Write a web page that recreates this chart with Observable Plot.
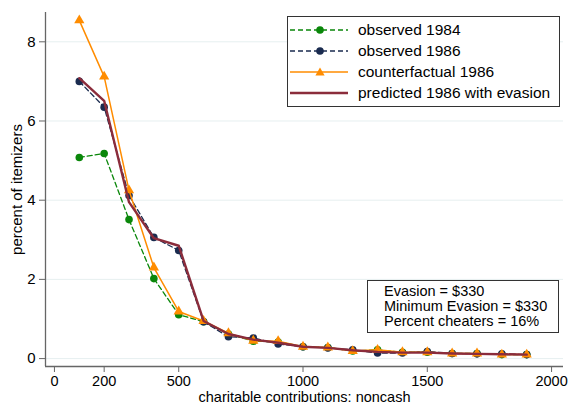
<!DOCTYPE html>
<html><head><meta charset="utf-8">
<script src="https://cdn.jsdelivr.net/npm/d3@7"></script>
<script src="https://cdn.jsdelivr.net/npm/@observablehq/plot@0.6"></script>
<style>
body{margin:0;background:#fff;font-family:"Liberation Sans",Arial,sans-serif;}
#wrap{position:relative;width:571px;height:405px;}
.box{position:absolute;background:#fff;border:1px solid #333;box-sizing:border-box;color:#000;}
.row{position:absolute;left:0;height:20px;display:flex;align-items:center;font-size:15.5px;}
.row span{margin-left:10px;white-space:nowrap;}
</style></head><body>
<div id="wrap"></div>
<script>
const contributions = [100,200,300,400,500,600,700,800,900,1000,1100,1200,1300,1400,1500,1600,1700,1800,1900];
const observed1984 = [5.08,5.18,3.51,2.02,1.11,0.93,0.62,0.44,0.42,0.30,0.28,0.19,0.22,0.16,0.16,0.13,0.13,0.10,0.10];
const observed1986 = [7.00,6.35,4.12,3.06,2.73,0.93,0.55,0.52,0.37,0.30,0.27,0.22,0.14,0.14,0.18,0.13,0.12,0.12,0.10];
const counterfactual1986 = [8.54,7.12,4.25,2.30,1.19,0.95,0.64,0.45,0.44,0.30,0.28,0.19,0.22,0.16,0.16,0.13,0.13,0.10,0.10];
const predicted1986 = [7.08,6.51,3.95,3.04,2.85,0.95,0.62,0.48,0.40,0.30,0.27,0.21,0.17,0.15,0.15,0.13,0.12,0.11,0.10];
const xTicks = [0,200,500,1000,1500,2000];
const yTicks = [0,2,4,6,8];
const seriesNames = ["observed 1984","observed 1986","counterfactual 1986","predicted 1986 with evasion"];
const noteLines = ["Evasion = $330","Minimum Evasion = $330","Percent cheaters = 16%"];

const colors = {obs84:"#0a870a", obs86:"#1a2b4f", cf:"#ff8c00", pred:"#8b2c3b"};
const toRows = vals => contributions.map((x,i)=>({x, y: vals[i]}));
const d84 = toRows(observed1984), d86 = toRows(observed1986), dcf = toRows(counterfactual1986), dpr = toRows(predicted1986);
const xDom = [-36, 2048], yDom = [-0.2, 8.74];

const chart = Plot.plot({
  width: 571, height: 405,
  marginLeft: 45, marginRight: 8, marginTop: 12, marginBottom: 39,
  x: {domain: xDom}, y: {domain: yDom},
  style: {fontFamily: '"Liberation Sans", Arial, sans-serif', fontSize: "14.5px", color: "#000", background: "#fff"},
  marks: [
    Plot.gridY(yTicks, {stroke: "#e6eff0", strokeOpacity: 1, strokeWidth: 1}),
    Plot.ruleX([xDom[0]], {stroke: "#666", strokeWidth: 1.3}),
    Plot.ruleY([yDom[0]], {stroke: "#666", strokeWidth: 1.3}),
    Plot.axisY({ticks: yTicks, tickSize: 6, tickPadding: 4, stroke: "#666", fill: "#000", tickFormat: d => String(d), label: "percent of itemizers", labelAnchor: "center", labelArrow: "none", labelOffset: 34, fontSize: 15}),
    Plot.axisX({ticks: xTicks, tickSize: 6, tickPadding: 3, stroke: "#666", fill: "#000", tickFormat: d => String(d), label: "charitable contributions: noncash", labelAnchor: "center", labelArrow: "none", labelOffset: 35}),
    Plot.line(d84, {x: "x", y: "y", stroke: colors.obs84, strokeWidth: 1.3, strokeDasharray: "5,3"}),
    Plot.dot(d84, {x: "x", y: "y", fill: colors.obs84, r: 3.8, symbol: "circle"}),
    Plot.line(d86, {x: "x", y: "y", stroke: colors.obs86, strokeWidth: 1.3, strokeDasharray: "5,3"}),
    Plot.dot(d86, {x: "x", y: "y", fill: colors.obs86, r: 3.8, symbol: "circle"}),
    Plot.line(dcf, {x: "x", y: "y", stroke: colors.cf, strokeWidth: 1.5}),
    Plot.dot(dcf, {x: "x", y: "y", fill: colors.cf, r: 3.8, symbol: "triangle"}),
    Plot.line(dpr, {x: "x", y: "y", stroke: colors.pred, strokeWidth: 2.4})
  ]
});
const wrap = document.getElementById("wrap");
wrap.appendChild(chart);

// legend (inside plot area, as in the original)
const leg = document.createElement("div");
leg.className = "box";
Object.assign(leg.style, {left: "287px", top: "16px", width: "273px", height: "91px"});
const styles = [
  {c: colors.obs84, dash: "5,3", w: 1.3, m: "circle"},
  {c: colors.obs86, dash: "5,3", w: 1.3, m: "circle"},
  {c: colors.cf, dash: null, w: 1.5, m: "triangle"},
  {c: colors.pred, dash: null, w: 2.4, m: null}
];
seriesNames.forEach((name, i) => {
  const r = document.createElement("div");
  r.className = "row";
  r.style.top = (3 + i * 21) + "px";
  const s = styles[i];
  let marker = "";
  if (s.m === "circle") marker = `<circle cx="30" cy="10" r="3.8" fill="${s.c}"/>`;
  if (s.m === "triangle") marker = `<path d="M30,5.5 L34.6,13.5 L25.4,13.5 Z" fill="${s.c}"/>`;
  r.innerHTML = `<svg width="58" height="20" style="margin-left:2px"><line x1="0" x2="58" y1="10" y2="10" stroke="${s.c}" stroke-width="${s.w}" ${s.dash ? `stroke-dasharray="${s.dash}"` : ""}/>${marker}</svg><span>${name}</span>`;
  leg.appendChild(r);
});
wrap.appendChild(leg);

// note box
const note = document.createElement("div");
note.className = "box";
Object.assign(note.style, {left: "367px", top: "280px", width: "192px", height: "53px", padding: "3px 0 0 16px", lineHeight: "15px", fontSize: "14.5px"});
note.innerHTML = noteLines.map(t => `<div>${t}</div>`).join("");
wrap.appendChild(note);
</script>
</body></html>
